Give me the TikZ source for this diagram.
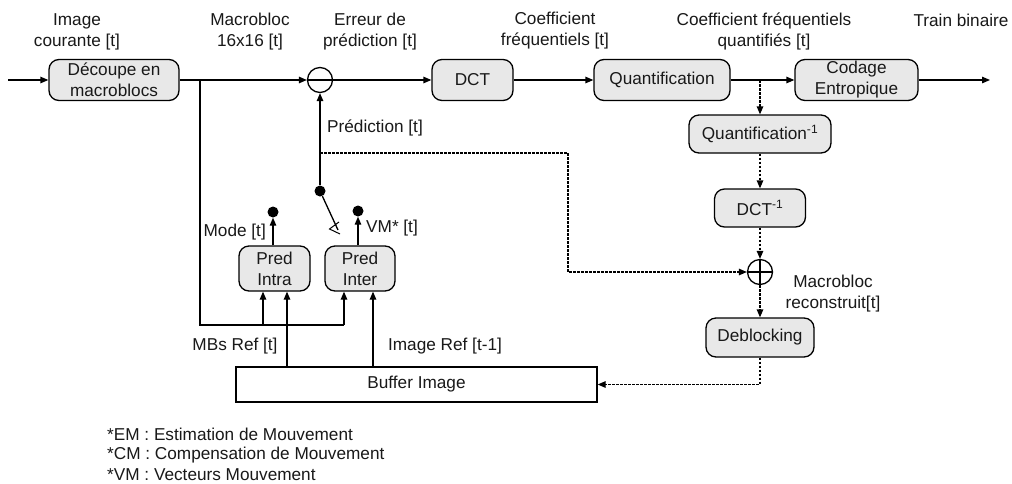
\documentclass[tikz,border=0pt]{standalone}
\usepackage{fontspec}
\setmainfont{Liberation Sans}
\usetikzlibrary{arrows.meta}
\definecolor{boxfill}{RGB}{232,232,232}
\definecolor{ink}{RGB}{25,25,25}
\begin{document}
\begin{tikzpicture}[x=1pt,y=-1pt,
  every node/.style={font=\fontsize{17.2}{21}\selectfont, text=ink},
  blk/.style={draw, rounded corners=10pt, fill=boxfill, line width=1.3pt, align=center, inner sep=0pt},
  lbl/.style={align=center, inner sep=0pt},
  ring/.style={draw, circle, line width=1.3pt, minimum size=25pt, inner sep=0pt},
  arr/.style={-{Triangle[length=8pt,width=6.5pt]}, line width=1.3pt},
  darr/.style={arr, dash pattern=on 2.5pt off 1.5pt},
  ln/.style={line width=1.3pt},
  dot/.style={circle, fill=black, minimum size=11pt, inner sep=0pt}
]
\useasboundingbox[fill=white] (0,0) rectangle (1012,483);

% main chain
\node[blk, minimum width=130pt, minimum height=41pt] (dec) at (114,80) {Découpe en\\macroblocs};
\node[ring] (sub) at (320,80) {};
\node[blk, minimum width=81pt, minimum height=41pt] (dct) at (472.5,80) {DCT};
\node[blk, minimum width=136pt, minimum height=41pt] (quant) at (662,80) {Quantification};
\node[blk, minimum width=123pt, minimum height=41pt] (cod) at (856.5,80) {Codage\\Entropique};
\coordinate (in) at (8,80);
\coordinate (out) at (990,80);
\coordinate (j1) at (200,80);
\coordinate (jq) at (760,80);

% reconstruction chain
\node[blk, minimum width=142pt, minimum height=38pt] (qinv) at (760,134) {Quantification\textsuperscript{-1}};
\node[blk, minimum width=91pt, minimum height=38pt] (dinv) at (760,208) {DCT\textsuperscript{-1}};
\node[ring] (add) at (760,272) {};
\node[blk, minimum width=108pt, minimum height=39pt] (deb) at (760,337.5) {Deblocking};
\node[draw, line width=1.3pt, minimum width=361pt, minimum height=35pt, inner sep=0pt] (buf) at (416.5,384.5) {Buffer Image};

% prediction
\node[blk, minimum width=71pt, minimum height=45pt] (intra) at (274.5,268.5) {Pred\\Intra};
\node[blk, minimum width=70pt, minimum height=45pt] (inter) at (360,268.5) {Pred\\Inter};
\node[dot] (piv) at (320,191) {};
\node[dot] (mode) at (273,212) {};
\node[dot] (vm) at (358,211) {};

% connectors main
\draw[arr] (in) -- (dec);
\draw[arr] (dec) -- (sub);
\draw[ln] (sub.west) -- (sub.east);
\draw[arr] (sub) -- (dct);
\draw[arr] (dct) -- (quant);
\draw[arr] (quant) -- (cod);
\draw[arr] (cod) -- (out);

% reconstruction connectors
\draw[darr] (jq) -- (qinv);
\draw[darr] (qinv) -- (dinv);
\draw[darr] (dinv) -- (add);
\draw[ln] (add.west) -- (add.east) (add.north) -- (add.south);
\draw[darr] (add) -- (deb);
\draw[darr] (deb.south) |- (buf.east);

% prediction connectors
\draw[arr] (piv) -- (sub);
\coordinate (pd) at (320,153);
\coordinate (pr) at (568,153);
\draw[darr] (pd) -- (pr) |- (add.west);
\coordinate (sw) at (338,230);
\draw[ln] (piv) -- (sw);
\draw[line width=1pt] (339,222) -- (329.5,229) -- (340,234);

\coordinate (jb) at (200,325);
\coordinate (jc) at (344,325);
\coordinate (ji) at (263,325);
\draw[ln] (j1) -- (jb) -- (jc);
\draw[arr] (jc) -- (jc |- inter.south);
\draw[arr] (ji) -- (ji |- intra.south);
\coordinate (b1) at (287,367);
\coordinate (b2) at (373,367);
\draw[arr] (b1) -- (b1 |- intra.south);
\draw[arr] (b2) -- (b2 |- inter.south);
\draw[arr] (intra.north -| mode) -- (mode);
\draw[arr] (inter.north -| vm) -- (vm);

% labels
\node[lbl] (t1) at (77,32) {Image\\courante [t]};
\node[lbl] (t2) at (250,32) {Macrobloc\\16x16 [t]};
\node[lbl] (t3) at (370,32) {Erreur de\\prédiction [t]};
\node[lbl] (t4) at (555,31) {Coefficient\\fréquentiels [t]};
\node[lbl] (t5) at (764,31) {Coefficient fréquentiels\\quantifiés [t]};
\node[lbl] (t6) at (961,20) {Train binaire};
\node[lbl, anchor=west] (t7) at (327,128) {Prédiction [t]};
\node[lbl, anchor=east] (t8) at (266,232) {Mode [t]};
\node[lbl, anchor=west] (t9) at (366,228) {VM* [t]};
\node[lbl] (t10) at (235,346) {MBs Ref [t]};
\node[lbl] (t11) at (445,346) {Image Ref [t-1]};
\node[lbl] (t12) at (833,294) {Macrobloc\\reconstruit[t]};
\node[lbl, anchor=west] (g1) at (107,434) {*EM : Estimation de Mouvement};
\node[lbl, anchor=west] (g2) at (107,455) {*CM : Compensation de Mouvement};
\node[lbl, anchor=west] (g3) at (107,475) {*VM : Vecteurs Mouvement};
\end{tikzpicture}
\end{document}
